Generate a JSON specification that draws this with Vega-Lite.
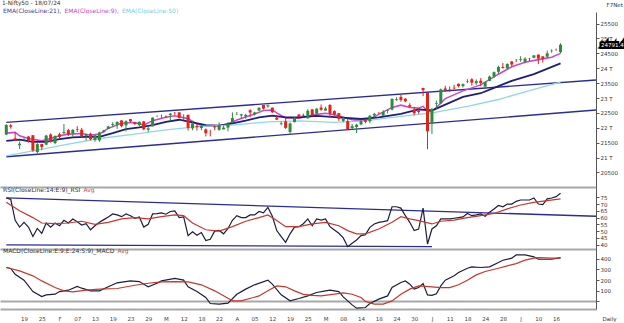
{
"$schema":"https://vega.github.io/schema/vega-lite/v6.json",
"background":"white",
"padding":0,
"title":{"text":"1-Nifty50 - 18/07/24","anchor":"start","frame":"group","fontSize":5.8,"fontWeight":"normal","color":"#333","offset":-4,"dx":2,"font":"DejaVu Sans"},
"spacing":0,
"bounds":"flush",
"resolve":{"scale":{"color":"independent","strokeWidth":"independent","y":"independent"},"legend":{"color":"independent"}},
"config":{"view":{"stroke":null},"font":"DejaVu Sans",
 "axis":{"labelFont":"DejaVu Sans","labelFontSize":5.5,"labelColor":"#333","domainColor":"#555","tickColor":"#555","tickSize":3,"labelPadding":1,"grid":false,"labelOverlap":false},
 "legend":{"labelFont":"DejaVu Sans","labelFontSize":6,"symbolSize":0,"symbolStrokeWidth":0,"symbolOpacity":0,"labelOffset":-5,"columnPadding":1.5,"padding":0,"rowPadding":0}},
"datasets":{
"px":[
{"d":"01-15","o":21773,"h":22116,"l":21749,"c":22097},{"d":"01-16","o":22080,"h":22124,"l":21969,"c":22032},{"d":"01-17","o":21647,"h":21851,"l":21550,"c":21571},{"d":"01-18","o":21414,"h":21539,"l":21285,"c":21462},{"d":"01-19","o":21615,"h":21670,"l":21575,"c":21622},{"d":"01-20","o":21706,"h":21720,"l":21500,"c":21571},{"d":"01-23","o":21750,"h":21750,"l":21192,"c":21238},{"d":"01-24","o":21185,"h":21482,"l":21137,"c":21453},{"d":"01-25","o":21454,"h":21459,"l":21247,"c":21352},{"d":"01-29","o":21433,"h":21763,"l":21429,"c":21737},{"d":"01-30","o":21775,"h":21813,"l":21501,"c":21522},{"d":"01-31","o":21487,"h":21742,"l":21448,"c":21725},
{"d":"02-01","o":21780,"h":21833,"l":21658,"c":21697},{"d":"02-02","o":21812,"h":22126,"l":21805,"c":21853},{"d":"02-05","o":21921,"h":21965,"l":21726,"c":21772},{"d":"02-06","o":21825,"h":21953,"l":21705,"c":21929},{"d":"02-07","o":21950,"h":22053,"l":21860,"c":21931},{"d":"02-08","o":21933,"h":21998,"l":21665,"c":21718},{"d":"02-09","o":21727,"h":21804,"l":21575,"c":21783},{"d":"02-12","o":21800,"h":21832,"l":21574,"c":21616},{"d":"02-13","o":21590,"h":21766,"l":21530,"c":21743},{"d":"02-14","o":21578,"h":21870,"l":21530,"c":21840},{"d":"02-15","o":21869,"h":21931,"l":21820,"c":21911},{"d":"02-16","o":21964,"h":22069,"l":21964,"c":22041},{"d":"02-19","o":22095,"h":22186,"l":22021,"c":22122},{"d":"02-20","o":22108,"h":22215,"l":21964,"c":22197},{"d":"02-21","o":22248,"h":22249,"l":22014,"c":22055},{"d":"02-22","o":22082,"h":22252,"l":21875,"c":22218},{"d":"02-23","o":22291,"h":22297,"l":22186,"c":22213},{"d":"02-26","o":22169,"h":22202,"l":22101,"c":22122},{"d":"02-27","o":22090,"h":22218,"l":22045,"c":22198},{"d":"02-28","o":22214,"h":22230,"l":21915,"c":21951},{"d":"02-29","o":21935,"h":22060,"l":21860,"c":21983},
{"d":"03-01","o":22048,"h":22353,"l":22047,"c":22339},{"d":"03-02","o":22378,"h":22420,"l":22355,"c":22379},{"d":"03-04","o":22403,"h":22440,"l":22308,"c":22406},{"d":"03-05","o":22372,"h":22416,"l":22325,"c":22356},{"d":"03-06","o":22432,"h":22498,"l":22224,"c":22474},{"d":"03-07","o":22505,"h":22525,"l":22431,"c":22494},{"d":"03-11","o":22517,"h":22527,"l":22315,"c":22333},{"d":"03-12","o":22334,"h":22452,"l":22257,"c":22336},{"d":"03-13","o":22432,"h":22447,"l":21906,"c":21998},{"d":"03-14","o":21982,"h":22204,"l":21917,"c":22147},{"d":"03-15","o":22065,"h":22129,"l":21905,"c":22023},{"d":"03-18","o":21990,"h":22083,"l":21914,"c":22056},{"d":"03-19","o":21946,"h":21978,"l":21711,"c":21818},{"d":"03-20","o":21843,"h":21930,"l":21710,"c":21840},{"d":"03-21","o":22046,"h":22081,"l":21916,"c":22012},{"d":"03-22","o":21932,"h":22180,"l":21900,"c":22097},{"d":"03-26","o":21947,"h":22073,"l":21947,"c":22005},{"d":"03-27","o":22005,"h":22193,"l":21882,"c":22124},{"d":"03-28","o":22163,"h":22516,"l":22163,"c":22327},
{"d":"04-01","o":22455,"h":22530,"l":22427,"c":22462},{"d":"04-02","o":22416,"h":22469,"l":22318,"c":22453},{"d":"04-03","o":22387,"h":22470,"l":22302,"c":22434},{"d":"04-04","o":22592,"h":22619,"l":22364,"c":22515},{"d":"04-05","o":22450,"h":22540,"l":22409,"c":22514},{"d":"04-08","o":22578,"h":22697,"l":22575,"c":22666},{"d":"04-09","o":22766,"h":22768,"l":22612,"c":22643},{"d":"04-10","o":22720,"h":22775,"l":22673,"c":22754},{"d":"04-12","o":22677,"h":22677,"l":22503,"c":22519},{"d":"04-15","o":22339,"h":22428,"l":22260,"c":22273},{"d":"04-16","o":22125,"h":22213,"l":22079,"c":22148},{"d":"04-18","o":22212,"h":22327,"l":21962,"c":21996},{"d":"04-19","o":21862,"h":22179,"l":21777,"c":22147},{"d":"04-22","o":22190,"h":22375,"l":22180,"c":22336},{"d":"04-23","o":22447,"h":22447,"l":22349,"c":22368},{"d":"04-24","o":22421,"h":22476,"l":22384,"c":22402},{"d":"04-25","o":22317,"h":22625,"l":22306,"c":22570},{"d":"04-26","o":22620,"h":22620,"l":22385,"c":22420},{"d":"04-29","o":22475,"h":22655,"l":22441,"c":22643},{"d":"04-30","o":22679,"h":22783,"l":22568,"c":22605},
{"d":"05-02","o":22580,"h":22711,"l":22567,"c":22648},{"d":"05-03","o":22766,"h":22795,"l":22348,"c":22476},{"d":"05-06","o":22561,"h":22588,"l":22409,"c":22443},{"d":"05-07","o":22490,"h":22499,"l":22232,"c":22302},{"d":"05-08","o":22231,"h":22368,"l":22185,"c":22303},{"d":"05-09","o":22224,"h":22307,"l":21932,"c":21958},{"d":"05-10","o":21990,"h":22131,"l":21950,"c":22055},{"d":"05-13","o":22027,"h":22131,"l":21822,"c":22104},{"d":"05-14","o":22113,"h":22271,"l":22082,"c":22218},{"d":"05-15","o":22255,"h":22298,"l":22152,"c":22201},{"d":"05-16","o":22220,"h":22432,"l":22154,"c":22404},{"d":"05-17","o":22415,"h":22503,"l":22345,"c":22467},{"d":"05-18","o":22512,"h":22514,"l":22465,"c":22502},{"d":"05-21","o":22405,"h":22592,"l":22404,"c":22529},{"d":"05-22","o":22577,"h":22629,"l":22483,"c":22597},{"d":"05-23","o":22614,"h":22993,"l":22577,"c":22967},{"d":"05-24","o":22930,"h":23026,"l":22908,"c":22957},{"d":"05-27","o":23038,"h":23111,"l":22871,"c":22932},{"d":"05-28","o":22977,"h":22998,"l":22858,"c":22888},{"d":"05-29","o":22762,"h":22825,"l":22685,"c":22704},{"d":"05-30","o":22617,"h":22705,"l":22417,"c":22488},{"d":"05-31","o":22568,"h":22653,"l":22465,"c":22531},
{"d":"06-03","o":23338,"h":23339,"l":23062,"c":23264},{"d":"06-04","o":23179,"h":23179,"l":21281,"c":21884},{"d":"06-05","o":22128,"h":22670,"l":21792,"c":22620},{"d":"06-06","o":22798,"h":22910,"l":22642,"c":22821},{"d":"06-07","o":22821,"h":23320,"l":22789,"c":23290},{"d":"06-10","o":23320,"h":23411,"l":23206,"c":23259},{"d":"06-11","o":23283,"h":23389,"l":23206,"c":23265},{"d":"06-12","o":23345,"h":23441,"l":23295,"c":23323},{"d":"06-13","o":23480,"h":23481,"l":23354,"c":23399},{"d":"06-14","o":23401,"h":23490,"l":23354,"c":23466},{"d":"06-18","o":23570,"h":23630,"l":23500,"c":23558},{"d":"06-19","o":23629,"h":23665,"l":23413,"c":23516},{"d":"06-20","o":23499,"h":23624,"l":23442,"c":23567},{"d":"06-21","o":23582,"h":23668,"l":23398,"c":23501},{"d":"06-24","o":23382,"h":23558,"l":23350,"c":23538},{"d":"06-25","o":23577,"h":23754,"l":23563,"c":23721},{"d":"06-26","o":23723,"h":23889,"l":23674,"c":23868},{"d":"06-27","o":23881,"h":24087,"l":23805,"c":24044},{"d":"06-28","o":24045,"h":24175,"l":23986,"c":24011},
{"d":"07-01","o":23992,"h":24164,"l":23992,"c":24142},{"d":"07-02","o":24229,"h":24236,"l":24056,"c":24124},{"d":"07-03","o":24292,"h":24309,"l":24207,"c":24287},{"d":"07-04","o":24278,"h":24402,"l":24215,"c":24302},{"d":"07-05","o":24213,"h":24364,"l":24168,"c":24324},{"d":"07-08","o":24329,"h":24345,"l":24240,"c":24321},{"d":"07-09","o":24351,"h":24443,"l":24332,"c":24433},{"d":"07-10","o":24459,"h":24461,"l":24141,"c":24324},{"d":"07-11","o":24400,"h":24402,"l":24193,"c":24316},{"d":"07-12","o":24388,"h":24592,"l":24331,"c":24502},{"d":"07-15","o":24573,"h":24635,"l":24522,"c":24587},{"d":"07-16","o":24615,"h":24661,"l":24587,"c":24613},{"d":"07-18","o":24543,"h":24838,"l":24504,"c":24791}
],
"ema":[
{"d":"01-15","s":"9","v":21820},{"d":"01-17","s":"9","v":21845},{"d":"01-18","s":"9","v":21730},{"d":"01-20","s":"9","v":21640},{"d":"01-25","s":"9","v":21560},{"d":"01-30","s":"9","v":21640},{"d":"02-01","s":"9","v":21730},{"d":"02-05","s":"9","v":21786},{"d":"02-08","s":"9","v":21810},{"d":"02-12","s":"9","v":21752},{"d":"02-14","s":"9","v":21786},{"d":"02-16","s":"9","v":21980},{"d":"02-21","s":"9","v":22150},{"d":"02-26","s":"9","v":22180},{"d":"02-28","s":"9","v":22090},{"d":"03-01","s":"9","v":22240},{"d":"03-05","s":"9","v":22350},{"d":"03-07","s":"9","v":22405},{"d":"03-13","s":"9","v":22300},{"d":"03-15","s":"9","v":22130},{"d":"03-19","s":"9","v":22050},{"d":"03-22","s":"9","v":22070},{"d":"03-27","s":"9","v":22130},{"d":"04-01","s":"9","v":22260},{"d":"04-03","s":"9","v":22360},{"d":"04-05","s":"9","v":22460},{"d":"04-09","s":"9","v":22580},{"d":"04-12","s":"9","v":22600},{"d":"04-15","s":"9","v":22500},{"d":"04-18","s":"9","v":22330},{"d":"04-23","s":"9","v":22320},{"d":"04-25","s":"9","v":22390},{"d":"04-29","s":"9","v":22450},{"d":"05-02","s":"9","v":22490},{"d":"05-06","s":"9","v":22440},{"d":"05-08","s":"9","v":22350},{"d":"05-10","s":"9","v":22270},{"d":"05-14","s":"9","v":22240},{"d":"05-16","s":"9","v":22300},{"d":"05-18","s":"9","v":22450},{"d":"05-23","s":"9","v":22684},{"d":"05-27","s":"9","v":22760},{"d":"05-29","s":"9","v":22680},{"d":"05-31","s":"9","v":22660},{"d":"06-03","s":"9","v":22720},{"d":"06-04","s":"9","v":22560},{"d":"06-05","s":"9","v":22570},{"d":"06-06","s":"9","v":22680},{"d":"06-07","s":"9","v":22830},{"d":"06-10","s":"9","v":22980},{"d":"06-14","s":"9","v":23240},{"d":"06-21","s":"9","v":23440},{"d":"06-27","s":"9","v":23800},{"d":"07-02","s":"9","v":24050},{"d":"07-05","s":"9","v":24200},{"d":"07-10","s":"9","v":24290},{"d":"07-15","s":"9","v":24370},{"d":"07-18","s":"9","v":24500},
{"d":"01-15","s":"21","v":21562},{"d":"01-18","s":"21","v":21600},{"d":"01-23","s":"21","v":21527},{"d":"01-29","s":"21","v":21527},{"d":"02-01","s":"21","v":21620},{"d":"02-06","s":"21","v":21675},{"d":"02-09","s":"21","v":21697},{"d":"02-14","s":"21","v":21697},{"d":"02-19","s":"21","v":21820},{"d":"02-22","s":"21","v":21955},{"d":"02-27","s":"21","v":22010},{"d":"03-01","s":"21","v":22090},{"d":"03-05","s":"21","v":22200},{"d":"03-11","s":"21","v":22270},{"d":"03-14","s":"21","v":22180},{"d":"03-19","s":"21","v":22090},{"d":"03-22","s":"21","v":22070},{"d":"03-28","s":"21","v":22150},{"d":"04-03","s":"21","v":22240},{"d":"04-08","s":"21","v":22350},{"d":"04-12","s":"21","v":22405},{"d":"04-18","s":"21","v":22350},{"d":"04-23","s":"21","v":22350},{"d":"04-29","s":"21","v":22400},{"d":"05-07","s":"21","v":22350},{"d":"05-14","s":"21","v":22295},{"d":"05-18","s":"21","v":22350},{"d":"05-27","s":"21","v":22470},{"d":"05-31","s":"21","v":22620},{"d":"06-05","s":"21","v":22580},{"d":"06-10","s":"21","v":22780},{"d":"06-14","s":"21","v":23040},{"d":"06-21","s":"21","v":23160},{"d":"06-27","s":"21","v":23400},{"d":"07-02","s":"21","v":23578},{"d":"07-09","s":"21","v":23803},{"d":"07-18","s":"21","v":24163},
{"d":"01-15","s":"50","v":21058},{"d":"01-23","s":"50","v":21226},{"d":"02-05","s":"50","v":21450},{"d":"02-14","s":"50","v":21640},{"d":"02-26","s":"50","v":21787},{"d":"03-05","s":"50","v":21930},{"d":"03-18","s":"50","v":22045},{"d":"03-28","s":"50","v":22090},{"d":"04-10","s":"50","v":22200},{"d":"04-23","s":"50","v":22230},{"d":"05-06","s":"50","v":22180},{"d":"05-15","s":"50","v":22234},{"d":"05-18","s":"50","v":22290},{"d":"05-27","s":"50","v":22380},{"d":"06-05","s":"50","v":22500},{"d":"06-18","s":"50","v":22720},{"d":"06-27","s":"50","v":22950},{"d":"07-08","s":"50","v":23250},{"d":"07-18","s":"50","v":23530}
],
"ch":[{"d":"01-15","d2":"07-30","v":22180,"v2":23605},{"d":"01-15","d2":"07-30","v":21024,"v2":22597}],
"tag":[{"d":"07-30","v":24791.4,"t":"24791.4"}],
"rtl":[{"d":"01-15","d2":"07-30","v":74.5,"v2":61},{"d":"01-15","d2":"06-05","v":39.8,"v2":38.5}],
"rsi":[
{"d":"01-15","s":"RSI","v":74.5},{"d":"01-16","s":"RSI","v":73.5},{"d":"01-17","s":"RSI","v":58},{"d":"01-18","s":"RSI","v":53},{"d":"01-19","s":"RSI","v":56.5},{"d":"01-20","s":"RSI","v":53},{"d":"01-23","s":"RSI","v":46},{"d":"01-24","s":"RSI","v":52},{"d":"01-25","s":"RSI","v":48.4},{"d":"01-29","s":"RSI","v":56},{"d":"01-30","s":"RSI","v":53},{"d":"01-31","s":"RSI","v":56},{"d":"02-01","s":"RSI","v":54},{"d":"02-02","s":"RSI","v":58},{"d":"02-05","s":"RSI","v":56},{"d":"02-06","s":"RSI","v":59},{"d":"02-07","s":"RSI","v":57},{"d":"02-08","s":"RSI","v":54.5},{"d":"02-09","s":"RSI","v":55.5},{"d":"02-12","s":"RSI","v":51},{"d":"02-13","s":"RSI","v":54},{"d":"02-14","s":"RSI","v":56.5},{"d":"02-15","s":"RSI","v":58.5},{"d":"02-16","s":"RSI","v":60.5},{"d":"02-19","s":"RSI","v":62.7},{"d":"02-20","s":"RSI","v":62},{"d":"02-21","s":"RSI","v":60.7},{"d":"02-22","s":"RSI","v":62.7},{"d":"02-23","s":"RSI","v":61.4},{"d":"02-26","s":"RSI","v":59.5},{"d":"02-27","s":"RSI","v":60.5},{"d":"02-28","s":"RSI","v":53},{"d":"02-29","s":"RSI","v":55},{"d":"03-01","s":"RSI","v":62.7},{"d":"03-02","s":"RSI","v":63},{"d":"03-04","s":"RSI","v":63.5},{"d":"03-05","s":"RSI","v":62.5},{"d":"03-06","s":"RSI","v":64.5},{"d":"03-07","s":"RSI","v":65},{"d":"03-11","s":"RSI","v":60},{"d":"03-12","s":"RSI","v":60.5},{"d":"03-13","s":"RSI","v":46.7},{"d":"03-14","s":"RSI","v":49.5},{"d":"03-15","s":"RSI","v":47},{"d":"03-18","s":"RSI","v":49},{"d":"03-19","s":"RSI","v":43},{"d":"03-20","s":"RSI","v":44},{"d":"03-21","s":"RSI","v":50},{"d":"03-22","s":"RSI","v":50.5},{"d":"03-26","s":"RSI","v":48},{"d":"03-27","s":"RSI","v":52},{"d":"03-28","s":"RSI","v":58},{"d":"04-01","s":"RSI","v":61.4},{"d":"04-02","s":"RSI","v":60},{"d":"04-03","s":"RSI","v":60},{"d":"04-04","s":"RSI","v":62},{"d":"04-05","s":"RSI","v":62},{"d":"04-08","s":"RSI","v":64.5},{"d":"04-09","s":"RSI","v":63.5},{"d":"04-10","s":"RSI","v":67.6},{"d":"04-12","s":"RSI","v":61},{"d":"04-15","s":"RSI","v":50.4},{"d":"04-16","s":"RSI","v":46},{"d":"04-18","s":"RSI","v":41.7},{"d":"04-19","s":"RSI","v":48},{"d":"04-22","s":"RSI","v":53},{"d":"04-23","s":"RSI","v":53.3},{"d":"04-24","s":"RSI","v":55.5},{"d":"04-25","s":"RSI","v":59},{"d":"04-26","s":"RSI","v":54},{"d":"04-29","s":"RSI","v":59},{"d":"04-30","s":"RSI","v":58.2},{"d":"05-02","s":"RSI","v":59},{"d":"05-03","s":"RSI","v":53.3},{"d":"05-06","s":"RSI","v":50.8},{"d":"05-07","s":"RSI","v":48.4},{"d":"05-08","s":"RSI","v":45},{"d":"05-09","s":"RSI","v":38.5},{"d":"05-10","s":"RSI","v":41},{"d":"05-13","s":"RSI","v":43.5},{"d":"05-14","s":"RSI","v":46.7},{"d":"05-15","s":"RSI","v":47.4},{"d":"05-16","s":"RSI","v":52.8},{"d":"05-17","s":"RSI","v":55.3},{"d":"05-18","s":"RSI","v":56.5},{"d":"05-21","s":"RSI","v":57},{"d":"05-22","s":"RSI","v":57.7},{"d":"05-23","s":"RSI","v":68},{"d":"05-24","s":"RSI","v":68},{"d":"05-27","s":"RSI","v":67},{"d":"05-28","s":"RSI","v":61.4},{"d":"05-29","s":"RSI","v":56.5},{"d":"05-30","s":"RSI","v":50.4},{"d":"05-31","s":"RSI","v":51.5},{"d":"06-03","s":"RSI","v":67},{"d":"06-04","s":"RSI","v":40.5},{"d":"06-05","s":"RSI","v":51.6},{"d":"06-06","s":"RSI","v":54},{"d":"06-07","s":"RSI","v":59},{"d":"06-10","s":"RSI","v":59},{"d":"06-11","s":"RSI","v":59},{"d":"06-12","s":"RSI","v":59.5},{"d":"06-13","s":"RSI","v":60},{"d":"06-14","s":"RSI","v":60.5},{"d":"06-18","s":"RSI","v":63},{"d":"06-19","s":"RSI","v":61.4},{"d":"06-20","s":"RSI","v":62},{"d":"06-21","s":"RSI","v":62.7},{"d":"06-24","s":"RSI","v":61},{"d":"06-25","s":"RSI","v":64},{"d":"06-26","s":"RSI","v":66.4},{"d":"06-27","s":"RSI","v":69},{"d":"06-28","s":"RSI","v":68},{"d":"07-01","s":"RSI","v":70},{"d":"07-02","s":"RSI","v":70},{"d":"07-03","s":"RSI","v":72},{"d":"07-04","s":"RSI","v":73},{"d":"07-05","s":"RSI","v":73},{"d":"07-08","s":"RSI","v":73},{"d":"07-09","s":"RSI","v":74.5},{"d":"07-10","s":"RSI","v":70},{"d":"07-11","s":"RSI","v":69.6},{"d":"07-12","s":"RSI","v":73.8},{"d":"07-15","s":"RSI","v":74.5},{"d":"07-16","s":"RSI","v":75.5},{"d":"07-18","s":"RSI","v":78},
{"d":"01-15","s":"Avg","v":71.3},{"d":"01-18","s":"Avg","v":65},{"d":"01-23","s":"Avg","v":60},{"d":"01-25","s":"Avg","v":56},{"d":"01-31","s":"Avg","v":55.5},{"d":"02-05","s":"Avg","v":56},{"d":"02-08","s":"Avg","v":57.3},{"d":"02-13","s":"Avg","v":55},{"d":"02-16","s":"Avg","v":56.5},{"d":"02-21","s":"Avg","v":59},{"d":"02-26","s":"Avg","v":60},{"d":"02-29","s":"Avg","v":59},{"d":"03-04","s":"Avg","v":60.7},{"d":"03-07","s":"Avg","v":62},{"d":"03-12","s":"Avg","v":61.4},{"d":"03-14","s":"Avg","v":56},{"d":"03-19","s":"Avg","v":51},{"d":"03-22","s":"Avg","v":50},{"d":"03-28","s":"Avg","v":53.3},{"d":"04-03","s":"Avg","v":57.3},{"d":"04-08","s":"Avg","v":60},{"d":"04-10","s":"Avg","v":62},{"d":"04-15","s":"Avg","v":57.8},{"d":"04-18","s":"Avg","v":53.3},{"d":"04-23","s":"Avg","v":53.3},{"d":"04-26","s":"Avg","v":55.3},{"d":"05-02","s":"Avg","v":56.5},{"d":"05-07","s":"Avg","v":54},{"d":"05-09","s":"Avg","v":50.4},{"d":"05-13","s":"Avg","v":48},{"d":"05-15","s":"Avg","v":48},{"d":"05-18","s":"Avg","v":51.6},{"d":"05-23","s":"Avg","v":56.5},{"d":"05-27","s":"Avg","v":60.7},{"d":"05-29","s":"Avg","v":59},{"d":"05-31","s":"Avg","v":57.8},{"d":"06-05","s":"Avg","v":55.3},{"d":"06-07","s":"Avg","v":57.3},{"d":"06-12","s":"Avg","v":58.2},{"d":"06-18","s":"Avg","v":60},{"d":"06-21","s":"Avg","v":61.4},{"d":"06-26","s":"Avg","v":63},{"d":"07-01","s":"Avg","v":66.4},{"d":"07-04","s":"Avg","v":69.3},{"d":"07-09","s":"Avg","v":71.3},{"d":"07-12","s":"Avg","v":72.5},{"d":"07-18","s":"Avg","v":73.8}
],
"macd":[
{"d":"01-15","s":"MACD","v":319},{"d":"01-16","s":"MACD","v":310},{"d":"01-17","s":"MACD","v":255},{"d":"01-19","s":"MACD","v":199},{"d":"01-23","s":"MACD","v":91},{"d":"01-25","s":"MACD","v":44},{"d":"01-29","s":"MACD","v":60},{"d":"01-31","s":"MACD","v":66},{"d":"02-01","s":"MACD","v":91},{"d":"02-05","s":"MACD","v":104},{"d":"02-07","s":"MACD","v":139},{"d":"02-08","s":"MACD","v":123},{"d":"02-12","s":"MACD","v":98},{"d":"02-14","s":"MACD","v":98},{"d":"02-16","s":"MACD","v":136},{"d":"02-20","s":"MACD","v":174},{"d":"02-23","s":"MACD","v":192},{"d":"02-27","s":"MACD","v":186},{"d":"02-29","s":"MACD","v":136},{"d":"03-02","s":"MACD","v":170},{"d":"03-04","s":"MACD","v":192},{"d":"03-07","s":"MACD","v":215},{"d":"03-12","s":"MACD","v":199},{"d":"03-13","s":"MACD","v":136},{"d":"03-15","s":"MACD","v":91},{"d":"03-19","s":"MACD","v":35},{"d":"03-20","s":"MACD","v":-22},{"d":"03-22","s":"MACD","v":-28},{"d":"03-27","s":"MACD","v":-19},{"d":"04-01","s":"MACD","v":66},{"d":"04-03","s":"MACD","v":114},{"d":"04-05","s":"MACD","v":155},{"d":"04-10","s":"MACD","v":199},{"d":"04-12","s":"MACD","v":161},{"d":"04-16","s":"MACD","v":60},{"d":"04-19","s":"MACD","v":3},{"d":"04-23","s":"MACD","v":25},{"d":"04-25","s":"MACD","v":50},{"d":"04-29","s":"MACD","v":82},{"d":"05-02","s":"MACD","v":98},{"d":"05-03","s":"MACD","v":104},{"d":"05-07","s":"MACD","v":91},{"d":"05-08","s":"MACD","v":41},{"d":"05-10","s":"MACD","v":-35},{"d":"05-13","s":"MACD","v":-66},{"d":"05-15","s":"MACD","v":-60},{"d":"05-16","s":"MACD","v":-22},{"d":"05-18","s":"MACD","v":19},{"d":"05-22","s":"MACD","v":50},{"d":"05-23","s":"MACD","v":129},{"d":"05-27","s":"MACD","v":177},{"d":"05-28","s":"MACD","v":192},{"d":"05-29","s":"MACD","v":161},{"d":"05-30","s":"MACD","v":114},{"d":"05-31","s":"MACD","v":130},{"d":"06-03","s":"MACD","v":167},{"d":"06-04","s":"MACD","v":60},{"d":"06-05","s":"MACD","v":55},{"d":"06-06","s":"MACD","v":70},{"d":"06-07","s":"MACD","v":145},{"d":"06-10","s":"MACD","v":199},{"d":"06-12","s":"MACD","v":240},{"d":"06-13","s":"MACD","v":271},{"d":"06-18","s":"MACD","v":312},{"d":"06-19","s":"MACD","v":325},{"d":"06-21","s":"MACD","v":319},{"d":"06-25","s":"MACD","v":325},{"d":"06-27","s":"MACD","v":366},{"d":"06-28","s":"MACD","v":388},{"d":"07-02","s":"MACD","v":407},{"d":"07-03","s":"MACD","v":438},{"d":"07-05","s":"MACD","v":438},{"d":"07-09","s":"MACD","v":420},{"d":"07-10","s":"MACD","v":397},{"d":"07-12","s":"MACD","v":397},{"d":"07-15","s":"MACD","v":397},{"d":"07-18","s":"MACD","v":413},
{"d":"01-15","s":"Avg","v":319},{"d":"01-18","s":"Avg","v":287},{"d":"01-23","s":"Avg","v":240},{"d":"01-25","s":"Avg","v":192},{"d":"01-31","s":"Avg","v":129},{"d":"02-02","s":"Avg","v":98},{"d":"02-06","s":"Avg","v":88},{"d":"02-09","s":"Avg","v":104},{"d":"02-14","s":"Avg","v":114},{"d":"02-20","s":"Avg","v":120},{"d":"02-26","s":"Avg","v":151},{"d":"02-29","s":"Avg","v":170},{"d":"03-04","s":"Avg","v":183},{"d":"03-07","s":"Avg","v":186},{"d":"03-13","s":"Avg","v":183},{"d":"03-18","s":"Avg","v":155},{"d":"03-21","s":"Avg","v":98},{"d":"03-27","s":"Avg","v":28},{"d":"03-28","s":"Avg","v":3},{"d":"04-02","s":"Avg","v":3},{"d":"04-08","s":"Avg","v":50},{"d":"04-10","s":"Avg","v":98},{"d":"04-15","s":"Avg","v":145},{"d":"04-18","s":"Avg","v":136},{"d":"04-22","s":"Avg","v":98},{"d":"04-24","s":"Avg","v":65},{"d":"04-26","s":"Avg","v":55},{"d":"04-30","s":"Avg","v":50},{"d":"05-06","s":"Avg","v":66},{"d":"05-08","s":"Avg","v":79},{"d":"05-10","s":"Avg","v":66},{"d":"05-14","s":"Avg","v":35},{"d":"05-15","s":"Avg","v":-3},{"d":"05-17","s":"Avg","v":-28},{"d":"05-21","s":"Avg","v":-28},{"d":"05-23","s":"Avg","v":3},{"d":"05-27","s":"Avg","v":66},{"d":"05-29","s":"Avg","v":114},{"d":"05-31","s":"Avg","v":145},{"d":"06-05","s":"Avg","v":136},{"d":"06-07","s":"Avg","v":129},{"d":"06-11","s":"Avg","v":129},{"d":"06-13","s":"Avg","v":155},{"d":"06-18","s":"Avg","v":199},{"d":"06-20","s":"Avg","v":249},{"d":"06-24","s":"Avg","v":281},{"d":"06-27","s":"Avg","v":312},{"d":"07-01","s":"Avg","v":334},{"d":"07-03","s":"Avg","v":356},{"d":"07-05","s":"Avg","v":388},{"d":"07-09","s":"Avg","v":407},{"d":"07-10","s":"Avg","v":413},{"d":"07-15","s":"Avg","v":407},{"d":"07-18","s":"Avg","v":407}
]
},
"vconcat":[
{
"width":596,"height":175,
"encoding":{"x":{"field":"d","type":"ordinal","scale":{"type":"point","padding":0.71,"align":1,"domain":["01-15","01-16","01-17","01-18","01-19","01-20","01-23","01-24","01-25","01-29","01-30","01-31","02-01","02-02","02-05","02-06","02-07","02-08","02-09","02-12","02-13","02-14","02-15","02-16","02-19","02-20","02-21","02-22","02-23","02-26","02-27","02-28","02-29","03-01","03-02","03-04","03-05","03-06","03-07","03-11","03-12","03-13","03-14","03-15","03-18","03-19","03-20","03-21","03-22","03-26","03-27","03-28","04-01","04-02","04-03","04-04","04-05","04-08","04-09","04-10","04-12","04-15","04-16","04-18","04-19","04-22","04-23","04-24","04-25","04-26","04-29","04-30","05-02","05-03","05-06","05-07","05-08","05-09","05-10","05-13","05-14","05-15","05-16","05-17","05-18","05-21","05-22","05-23","05-24","05-27","05-28","05-29","05-30","05-31","06-03","06-04","06-05","06-06","06-07","06-10","06-11","06-12","06-13","06-14","06-18","06-19","06-20","06-21","06-24","06-25","06-26","06-27","06-28","07-01","07-02","07-03","07-04","07-05","07-08","07-09","07-10","07-11","07-12","07-15","07-16","07-18","07-19","07-22","07-23","07-24","07-25","07-26","07-29","07-30"]},"axis":{"labels":false,"ticks":false,"domainColor":"#a8a8a8","domainWidth":2,"title":null}}},
"layer":[
{"data":{"name":"ch"},"mark":{"type":"rule","color":"#2b2b9c","strokeWidth":1.4},"encoding":{"x2":{"field":"d2"},"y":{"field":"v","type":"quantitative","scale":{"domain":[20010,25890],"nice":false,"zero":false},"axis":{"orient":"right","labelOverlap":false,"tickCount":50,"values":[20500,21000,21500,22000,22500,23000,23500,24000,24500,25000,25500],"labelExpr":"datum.value%1000==0?(datum.value/1000)+' T':''+datum.value","title":"F7Net","titleAngle":0,"titleX":10,"titleY":-8,"titleAlign":"left","titleBaseline":"middle","titleFontSize":5.5,"titleFontWeight":"normal","titleColor":"#333","titleFont":"DejaVu Sans"}},"y2":{"field":"v2"}}},
{"data":{"name":"ema"},"mark":{"type":"line"},"encoding":{"y":{"field":"v","type":"quantitative"},"color":{"field":"s","type":"nominal","scale":{"domain":["21","9","50"],"range":["#1e1e7c","#cc48cc","#8fd8e2"]},"legend":{"orient":"none","legendX":2,"legendY":-4,"direction":"horizontal","title":null,"labelExpr":"'EMA(CloseLine:'+datum.value+')'+(datum.value=='50'?'':',')","encode":{"labels":{"update":{"fill":{"signal":"datum.value=='21'?'#3a3a9e':datum.value=='9'?'#c445c4':'#6fd0da'"}}}}}},"strokeWidth":{"field":"s","type":"nominal","scale":{"domain":["21","9","50"],"range":[1.8,1.3,1]},"legend":null}}},
{"data":{"name":"px"},"mark":{"type":"rule","strokeWidth":1},"encoding":{"y":{"field":"l","type":"quantitative"},"y2":{"field":"h"},"color":{"condition":{"test":"datum.c>=datum.o","value":"#2e8b3a"},"value":"#e2231a"}}},
{"data":{"name":"px"},"mark":{"type":"rule","strokeWidth":3,"strokeCap":"butt"},"encoding":{"y":{"field":"o","type":"quantitative"},"y2":{"field":"c"},"color":{"condition":{"test":"datum.c>=datum.o","value":"#2e8b3a"},"value":"#e2231a"}}},
{"data":{"name":"tag"},"mark":{"type":"text","align":"left","baseline":"middle","dx":5,"fontSize":5.5,"fill":"#000","stroke":"#000","strokeWidth":4,"strokeJoin":"miter"},"encoding":{"y":{"field":"v","type":"quantitative"},"text":{"field":"t"}}},
{"data":{"name":"tag"},"mark":{"type":"text","align":"left","baseline":"middle","dx":5,"fontSize":5.5,"fill":"#fff"},"encoding":{"y":{"field":"v","type":"quantitative"},"text":{"field":"t"}}}
]
},
{
"width":596,"height":62,
"encoding":{"x":{"field":"d","type":"ordinal","scale":{"type":"point","padding":0.71,"align":1,"domain":["01-15","01-16","01-17","01-18","01-19","01-20","01-23","01-24","01-25","01-29","01-30","01-31","02-01","02-02","02-05","02-06","02-07","02-08","02-09","02-12","02-13","02-14","02-15","02-16","02-19","02-20","02-21","02-22","02-23","02-26","02-27","02-28","02-29","03-01","03-02","03-04","03-05","03-06","03-07","03-11","03-12","03-13","03-14","03-15","03-18","03-19","03-20","03-21","03-22","03-26","03-27","03-28","04-01","04-02","04-03","04-04","04-05","04-08","04-09","04-10","04-12","04-15","04-16","04-18","04-19","04-22","04-23","04-24","04-25","04-26","04-29","04-30","05-02","05-03","05-06","05-07","05-08","05-09","05-10","05-13","05-14","05-15","05-16","05-17","05-18","05-21","05-22","05-23","05-24","05-27","05-28","05-29","05-30","05-31","06-03","06-04","06-05","06-06","06-07","06-10","06-11","06-12","06-13","06-14","06-18","06-19","06-20","06-21","06-24","06-25","06-26","06-27","06-28","07-01","07-02","07-03","07-04","07-05","07-08","07-09","07-10","07-11","07-12","07-15","07-16","07-18","07-19","07-22","07-23","07-24","07-25","07-26","07-29","07-30"]},"axis":{"labels":false,"ticks":false,"domainColor":"#a8a8a8","domainWidth":2,"title":null}}},
"layer":[
{"data":{"name":"rtl"},"mark":{"type":"rule","color":"#2b2b9c","strokeWidth":1.3},"encoding":{"x2":{"field":"d2"},"y":{"field":"v","type":"quantitative","scale":{"domain":[36.8,82.6],"nice":false,"zero":false},"axis":{"orient":"right","labelOverlap":false,"tickCount":50,"values":[40,45,50,55,60,65,70,75],"title":null}},"y2":{"field":"v2"}}},
{"data":{"name":"rsi"},"mark":{"type":"line","strokeWidth":1.2},"encoding":{"y":{"field":"v","type":"quantitative"},"color":{"field":"s","type":"nominal","scale":{"domain":["RSI","Avg"],"range":["#1d1d3d","#c8372d"]},"legend":{"orient":"none","legendX":2,"legendY":-0.5,"direction":"horizontal","title":null,"labelExpr":"datum.value=='RSI'?'RSI(CloseLine:14:E:9)_RSI':'Avg'","encode":{"labels":{"update":{"fill":{"signal":"datum.value=='RSI'?'#333333':'#c0503c'"}}}}}}}}
]
},
{
"width":596,"height":60,
"encoding":{"x":{"field":"d","type":"ordinal","scale":{"type":"point","padding":0.71,"align":1,"domain":["01-15","01-16","01-17","01-18","01-19","01-20","01-23","01-24","01-25","01-29","01-30","01-31","02-01","02-02","02-05","02-06","02-07","02-08","02-09","02-12","02-13","02-14","02-15","02-16","02-19","02-20","02-21","02-22","02-23","02-26","02-27","02-28","02-29","03-01","03-02","03-04","03-05","03-06","03-07","03-11","03-12","03-13","03-14","03-15","03-18","03-19","03-20","03-21","03-22","03-26","03-27","03-28","04-01","04-02","04-03","04-04","04-05","04-08","04-09","04-10","04-12","04-15","04-16","04-18","04-19","04-22","04-23","04-24","04-25","04-26","04-29","04-30","05-02","05-03","05-06","05-07","05-08","05-09","05-10","05-13","05-14","05-15","05-16","05-17","05-18","05-21","05-22","05-23","05-24","05-27","05-28","05-29","05-30","05-31","06-03","06-04","06-05","06-06","06-07","06-10","06-11","06-12","06-13","06-14","06-18","06-19","06-20","06-21","06-24","06-25","06-26","06-27","06-28","07-01","07-02","07-03","07-04","07-05","07-08","07-09","07-10","07-11","07-12","07-15","07-16","07-18","07-19","07-22","07-23","07-24","07-25","07-26","07-29","07-30"]},"axis":{"values":["01-19","01-25","02-01","02-07","02-13","02-19","02-23","02-29","03-05","03-12","03-18","03-22","04-01","04-05","04-12","04-19","04-25","05-02","05-08","05-14","05-18","05-24","05-30","06-05","06-11","06-18","06-24","06-28","07-04","07-10","07-16"],"labelExpr":"datum.value=='02-01'?'F':datum.value=='03-05'?'M':datum.value=='04-01'?'A':datum.value=='05-02'?'M':datum.value=='06-05'?'J':datum.value=='07-04'?'J':slice(datum.value,3)","labelAngle":0,"labelPadding":7,"labelColor":"#444","labelOverlap":false,"ticks":false,"domainColor":"#a8a8a8","domainWidth":2,"title":"Daily","titleX":602,"titleY":9,"titleAlign":"left","titleBaseline":"middle","titleFontSize":5.5,"titleFontWeight":"normal","titleColor":"#333","titleFont":"DejaVu Sans"}}},
"layer":[
{"data":{"name":"macd"},"mark":{"type":"line","strokeWidth":1.2},"encoding":{"y":{"field":"v","type":"quantitative","scale":{"domain":[-74,494],"nice":false,"zero":false},"axis":{"orient":"right","labelOverlap":false,"tickCount":50,"values":[0,100,200,300,400],"labelExpr":"datum.value==0?'':datum.value","title":null,"grid":true,"gridColor":"#a8a8a8","gridWidth":2,"gridOpacity":{"condition":{"test":"datum.value==0","value":1},"value":0}}},"color":{"field":"s","type":"nominal","scale":{"domain":["MACD","Avg"],"range":["#1d1d3d","#c8372d"]},"legend":{"orient":"none","legendX":2,"legendY":-1.5,"direction":"horizontal","title":null,"labelExpr":"datum.value=='MACD'?'MACD(CloseLine:E:9:E:24:S:9)_MACD':'Avg'","encode":{"labels":{"update":{"fill":{"signal":"datum.value=='MACD'?'#333333':'#c0503c'"}}}}}}}}
]
}
]
}
